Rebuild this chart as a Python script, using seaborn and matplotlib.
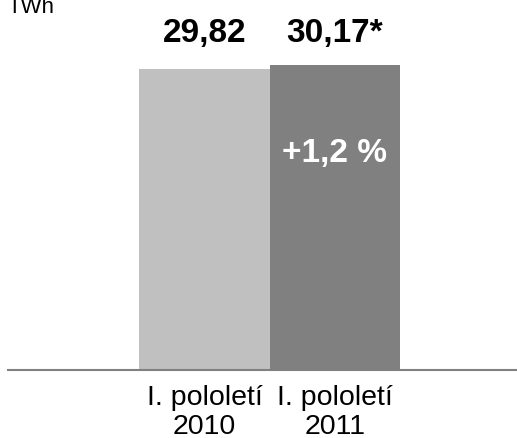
import matplotlib
matplotlib.use("Agg")
import matplotlib.pyplot as plt
import seaborn as sns
import pandas as pd

# Data
categories = ["I. pololetí\n2010", "I. pololetí\n2011"]
values = [29.82, 30.17]
value_labels = ["29,82", "30,17*"]
bar_colors = ["#C0C0C0", "#808080"]
change_label = "+1,2 %"
unit_label = "TWh"

sns.set_style("white")
plt.rcParams["font.family"] = ["Liberation Sans", "DejaVu Sans"]

W, H = 517, 439
fig = plt.figure(figsize=(W / 100, H / 100), dpi=100)
# axes: bottom spine at y=371 px, line from x=8 px to right edge
ax = fig.add_axes([8 / W, (H - 371) / H, (W - 8) / W, 371 / H])

df = pd.DataFrame({"period": categories, "twh": values})
sns.barplot(data=df, x="period", y="twh", hue="period", palette=bar_colors,
            width=1.0, legend=False, ax=ax, saturation=1, linewidth=0)

px_per_unit = 10.1
ax.set_ylim(0, 371 / px_per_unit)
ax.set_xlim((8 - 204.5) / 130.5, (517 - 204.5) / 130.5)

for side in ["top", "left", "right"]:
    ax.spines[side].set_visible(False)
ax.spines["bottom"].set_color("#808080")
ax.spines["bottom"].set_linewidth(1.5)
ax.set_yticks([])
ax.set_xlabel("")
ax.set_ylabel("")
ax.set_xticks(range(len(categories)), categories, fontsize=20.5,
              color="black", linespacing=1.15)
ax.tick_params(axis="x", length=0, pad=10)

# value labels above bars, on a common baseline
top = max(values) + 2.4
for i, txt in enumerate(value_labels):
    ax.text(i, top, txt, ha="center", va="baseline", fontsize=24,
            fontweight="bold", color="black")

# change inside second bar
ax.text(1, values[1] - 9.5, change_label, ha="center", va="baseline",
        fontsize=24, fontweight="bold", color="white")

fig.text(7 / W, (H - 13) / H, unit_label, ha="left", va="baseline",
         fontsize=16, color="black")

fig.savefig("out.png", dpi=100)
